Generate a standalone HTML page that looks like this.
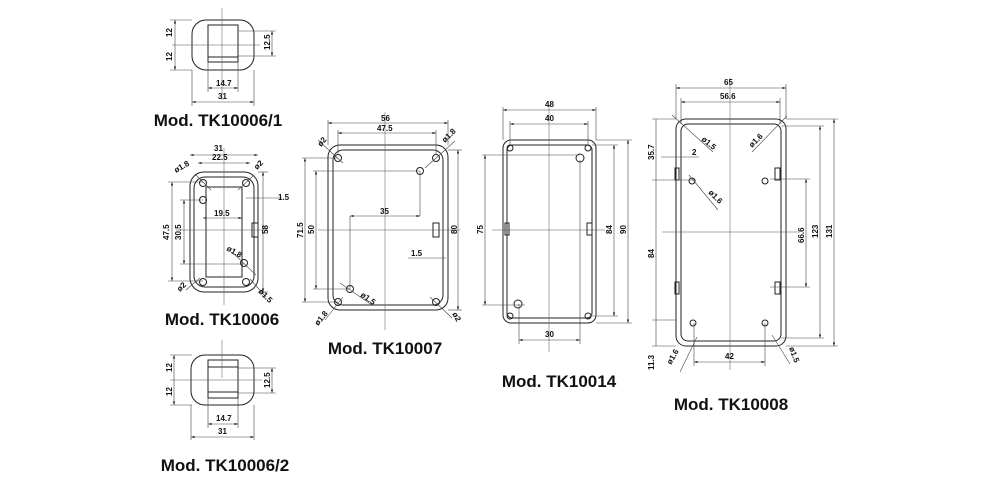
<!DOCTYPE html>
<html><head><meta charset="utf-8"><style>
html,body{margin:0;padding:0;background:#fff}
svg{display:block}
.l{stroke:#222;stroke-width:1;fill:none}
.t{stroke:#444;stroke-width:.6;fill:none}
.c{stroke:#555;stroke-width:.5;fill:none}
text{font-family:"Liberation Sans",sans-serif;fill:#111}
.s{font-size:8px;font-weight:bold}
.m{font-size:17px;font-weight:bold;text-anchor:middle}
</style></head><body>
<svg width="1000" height="481" viewBox="0 0 1000 481">
<defs>
<marker id="a" markerWidth="6" markerHeight="6" refX="6" refY="3" orient="auto-start-reverse"><path d="M0,1 L6,3 L0,5z" fill="#222"/></marker>
</defs>
<g class="t" marker-start="url(#a)" marker-end="url(#a)">
</g>

<!-- TK10006/1 -->
<rect class="l" x="192" y="20" width="62" height="50" rx="14"/>
<rect class="l" x="208" y="25" width="30" height="37"/>
<line class="l" x1="208" y1="57" x2="238" y2="57"/>
<line class="c" x1="222" y1="8" x2="222" y2="100"/>
<line class="c" x1="172" y1="45" x2="260" y2="45"/>
<g class="t">
<line x1="175" y1="20" x2="175" y2="70" marker-start="url(#a)" marker-end="url(#a)"/>
<line x1="170" y1="20" x2="192" y2="20"/><line x1="170" y1="70" x2="192" y2="70"/>
<line x1="272" y1="31" x2="272" y2="56" marker-start="url(#a)" marker-end="url(#a)"/>
<line x1="238" y1="31" x2="276" y2="31"/><line x1="238" y1="56" x2="276" y2="56"/>
<line x1="208" y1="88" x2="238" y2="88" marker-start="url(#a)" marker-end="url(#a)"/>
<line x1="208" y1="62" x2="208" y2="92"/><line x1="238" y1="62" x2="238" y2="92"/>
<line x1="192" y1="102" x2="254" y2="102" marker-start="url(#a)" marker-end="url(#a)"/>
<line x1="192" y1="70" x2="192" y2="106"/><line x1="254" y1="70" x2="254" y2="106"/>
</g>
<text class="s" transform="translate(172,37) rotate(-90)">12</text>
<text class="s" transform="translate(172,61) rotate(-90)">12</text>
<text class="s" transform="translate(270,50) rotate(-90)">12.5</text>
<text class="s" x="216" y="86">14.7</text>
<text class="s" x="218" y="99">31</text>
<text class="m" x="218" y="126">Mod. TK10006/1</text>

<!-- TK10006 -->
<rect class="l" x="190" y="172" width="68" height="120" rx="14"/>
<rect class="l" x="194" y="177" width="60" height="110" rx="11"/>
<rect class="l" x="206" y="187" width="36" height="90"/>
<line class="c" x1="224" y1="148" x2="224" y2="305"/>
<line class="c" x1="176" y1="230" x2="268" y2="230"/>
<circle class="l" cx="203" cy="183" r="3.5"/><circle class="l" cx="246" cy="183" r="3.5"/>
<circle class="l" cx="203" cy="282" r="3.5"/><circle class="l" cx="246" cy="282" r="3.5"/>
<circle class="l" cx="203" cy="200" r="3.5"/><circle class="l" cx="244" cy="263" r="3.5"/>
<rect class="l" x="252" y="223" width="6" height="14"/>
<g class="t">
<line x1="190" y1="155" x2="258" y2="155" marker-start="url(#a)" marker-end="url(#a)"/>
<line x1="198" y1="163" x2="250" y2="163" marker-start="url(#a)" marker-end="url(#a)"/>
<line x1="172" y1="182" x2="172" y2="281" marker-start="url(#a)" marker-end="url(#a)"/>
<line x1="184" y1="200" x2="184" y2="264" marker-start="url(#a)" marker-end="url(#a)"/>
<line x1="263" y1="172" x2="263" y2="292" marker-start="url(#a)" marker-end="url(#a)"/>
<line x1="203" y1="218" x2="242" y2="218" marker-start="url(#a)" marker-end="url(#a)"/>
<line x1="168" y1="182" x2="203" y2="182"/><line x1="168" y1="281" x2="203" y2="281"/>
<line x1="180" y1="200" x2="203" y2="200"/><line x1="180" y1="264" x2="244" y2="264"/>
<line x1="258" y1="172" x2="268" y2="172"/><line x1="258" y1="292" x2="268" y2="292"/>
<line x1="246" y1="198" x2="282" y2="198"/>
<line x1="195" y1="174" x2="211" y2="190"/><line x1="253" y1="176" x2="238" y2="190"/>
<line x1="186" y1="290" x2="200" y2="278"/><line x1="250" y1="279" x2="266" y2="297"/>
<line x1="233" y1="253" x2="256" y2="275"/>
</g>
<text class="s" x="214" y="151">31</text>
<text class="s" x="212" y="160">22.5</text>
<text class="s" x="214" y="216">19.5</text>
<text class="s" x="278" y="200">1.5</text>
<text class="s" transform="translate(169,240) rotate(-90)">47.5</text>
<text class="s" transform="translate(181,240) rotate(-90)">30.5</text>
<text class="s" transform="translate(268,234) rotate(-90)">58</text>
<text class="s" transform="translate(176,173) rotate(-30)">ø1.8</text>
<text class="s" transform="translate(257,170) rotate(-45)">ø2</text>
<text class="s" transform="translate(226,250) rotate(30)">ø1.8</text>
<text class="s" transform="translate(180,292) rotate(-45)">ø2</text>
<text class="s" transform="translate(258,292) rotate(45)">ø1.5</text>
<text class="m" x="222" y="325">Mod. TK10006</text>

<!-- TK10006/2 -->
<rect class="l" x="191" y="355" width="63" height="50" rx="14"/>
<rect class="l" x="208" y="360" width="30" height="38"/>
<line class="l" x1="208" y1="367" x2="238" y2="367"/>
<line class="l" x1="208" y1="392" x2="238" y2="392"/>
<line class="c" x1="222" y1="340" x2="222" y2="378"/>
<line class="c" x1="170" y1="380" x2="262" y2="380"/>
<g class="t">
<line x1="174" y1="355" x2="174" y2="405" marker-start="url(#a)" marker-end="url(#a)"/>
<line x1="170" y1="355" x2="192" y2="355"/><line x1="170" y1="405" x2="192" y2="405"/>
<line x1="272" y1="368" x2="272" y2="393" marker-start="url(#a)" marker-end="url(#a)"/>
<line x1="238" y1="368" x2="276" y2="368"/><line x1="238" y1="393" x2="276" y2="393"/>
<line x1="208" y1="424" x2="238" y2="424" marker-start="url(#a)" marker-end="url(#a)"/>
<line x1="208" y1="398" x2="208" y2="428"/><line x1="238" y1="398" x2="238" y2="428"/>
<line x1="191" y1="437" x2="254" y2="437" marker-start="url(#a)" marker-end="url(#a)"/>
<line x1="191" y1="405" x2="191" y2="440"/><line x1="254" y1="405" x2="254" y2="440"/>
</g>
<text class="s" transform="translate(172,372) rotate(-90)">12</text>
<text class="s" transform="translate(172,396) rotate(-90)">12</text>
<text class="s" transform="translate(270,388) rotate(-90)">12.5</text>
<text class="s" x="216" y="421">14.7</text>
<text class="s" x="218" y="434">31</text>
<text class="m" x="225" y="471">Mod. TK10006/2</text>

<!-- TK10007 -->
<rect class="l" x="328" y="145" width="120" height="165" rx="12"/>
<rect class="l" x="333" y="150" width="110" height="155" rx="10"/>
<line class="c" x1="385" y1="112" x2="385" y2="330"/>
<line class="c" x1="318" y1="230" x2="460" y2="230"/>
<circle class="l" cx="338" cy="158" r="3.5"/><circle class="l" cx="436" cy="158" r="3.5"/>
<circle class="l" cx="338" cy="302" r="3.5"/><circle class="l" cx="436" cy="302" r="3.5"/>
<circle class="l" cx="420" cy="171" r="3.5"/><circle class="l" cx="350" cy="289" r="3.5"/>
<rect class="l" x="433" y="223" width="6" height="14"/>
<g class="t">
<line x1="328" y1="123" x2="448" y2="123" marker-start="url(#a)" marker-end="url(#a)"/>
<line x1="338" y1="133" x2="436" y2="133" marker-start="url(#a)" marker-end="url(#a)"/>
<line x1="328" y1="120" x2="328" y2="145"/><line x1="448" y1="120" x2="448" y2="145"/>
<line x1="338" y1="130" x2="338" y2="155"/><line x1="436" y1="130" x2="436" y2="155"/>
<line x1="305" y1="158" x2="305" y2="302" marker-start="url(#a)" marker-end="url(#a)"/>
<line x1="316" y1="171" x2="316" y2="289" marker-start="url(#a)" marker-end="url(#a)"/>
<line x1="458" y1="150" x2="458" y2="310" marker-start="url(#a)" marker-end="url(#a)"/>
<line x1="350" y1="216" x2="420" y2="216" marker-start="url(#a)" marker-end="url(#a)"/>
<line x1="302" y1="158" x2="338" y2="158"/><line x1="302" y1="302" x2="338" y2="302"/>
<line x1="313" y1="171" x2="420" y2="171"/><line x1="313" y1="289" x2="350" y2="289"/>
<line x1="350" y1="216" x2="350" y2="289"/><line x1="420" y1="171" x2="420" y2="216"/>
<line x1="448" y1="150" x2="462" y2="150"/><line x1="448" y1="310" x2="462" y2="310"/>
<line x1="408" y1="258" x2="446" y2="258"/>
<line x1="318" y1="140" x2="343" y2="163"/><line x1="425" y1="168" x2="455" y2="141"/>
<line x1="325" y1="320" x2="343" y2="297"/><line x1="340" y1="283" x2="372" y2="305"/>
<line x1="430" y1="297" x2="452" y2="318"/>
</g>
<text class="s" x="381" y="121">56</text>
<text class="s" x="377" y="131">47.5</text>
<text class="s" x="380" y="214">35</text>
<text class="s" x="411" y="256">1.5</text>
<text class="s" transform="translate(303,238) rotate(-90)">71.5</text>
<text class="s" transform="translate(314,234) rotate(-90)">50</text>
<text class="s" transform="translate(457,234) rotate(-90)">80</text>
<text class="s" transform="translate(321,147) rotate(-50)">ø2</text>
<text class="s" transform="translate(445,143) rotate(-45)">ø1.8</text>
<text class="s" transform="translate(360,296) rotate(35)">ø1.5</text>
<text class="s" transform="translate(318,326) rotate(-50)">ø1.8</text>
<text class="s" transform="translate(452,314) rotate(60)">ø2</text>
<text class="m" x="385" y="354">Mod. TK10007</text>

<!-- TK10014 -->
<rect class="l" x="503" y="140" width="93" height="183" rx="8"/>
<rect class="l" x="507" y="145" width="85" height="173" rx="5"/>
<line class="c" x1="549" y1="105" x2="549" y2="352"/>
<line class="c" x1="492" y1="230" x2="605" y2="230"/>
<circle class="l" cx="510" cy="148" r="3"/><circle class="l" cx="588" cy="148" r="3"/>
<circle class="l" cx="510" cy="316" r="3"/><circle class="l" cx="588" cy="316" r="3"/>
<circle class="l" cx="580" cy="158" r="4"/><circle class="l" cx="518" cy="304" r="4"/>
<rect class="l" x="505" y="223" width="4" height="12"/><rect class="l" x="587" y="223" width="5" height="12"/>
<g class="t">
<line x1="503" y1="110" x2="596" y2="110" marker-start="url(#a)" marker-end="url(#a)"/>
<line x1="510" y1="124" x2="588" y2="124" marker-start="url(#a)" marker-end="url(#a)"/>
<line x1="503" y1="107" x2="503" y2="140"/><line x1="596" y1="107" x2="596" y2="140"/>
<line x1="510" y1="121" x2="510" y2="145"/><line x1="588" y1="121" x2="588" y2="145"/>
<line x1="485" y1="155" x2="485" y2="305" marker-start="url(#a)" marker-end="url(#a)"/>
<line x1="482" y1="155" x2="580" y2="155"/><line x1="482" y1="305" x2="525" y2="305"/>
<line x1="614" y1="145" x2="614" y2="316" marker-start="url(#a)" marker-end="url(#a)"/>
<line x1="628" y1="140" x2="628" y2="323" marker-start="url(#a)" marker-end="url(#a)"/>
<line x1="592" y1="145" x2="618" y2="145"/><line x1="592" y1="316" x2="618" y2="316"/>
<line x1="596" y1="140" x2="632" y2="140"/><line x1="596" y1="323" x2="632" y2="323"/>
<line x1="519" y1="340" x2="580" y2="340" marker-start="url(#a)" marker-end="url(#a)"/>
<line x1="519" y1="304" x2="519" y2="344"/><line x1="580" y1="160" x2="580" y2="344"/>
</g>
<text class="s" x="545" y="107">48</text>
<text class="s" x="545" y="121">40</text>
<text class="s" x="545" y="337">30</text>
<text class="s" transform="translate(483,234) rotate(-90)">75</text>
<text class="s" transform="translate(612,234) rotate(-90)">84</text>
<text class="s" transform="translate(626,234) rotate(-90)">90</text>
<text class="m" x="559" y="387">Mod. TK10014</text>

<!-- TK10008 -->
<rect class="l" x="676" y="119" width="110" height="227" rx="10"/>
<rect class="l" x="681" y="124" width="100" height="217" rx="7"/>
<line class="c" x1="730" y1="78" x2="730" y2="370"/>
<line class="c" x1="662" y1="232" x2="800" y2="232"/>
<circle class="l" cx="692" cy="181" r="3"/><circle class="l" cx="765" cy="181" r="3"/>
<circle class="l" cx="693" cy="323" r="3"/><circle class="l" cx="765" cy="323" r="3"/>
<rect class="l" x="675" y="168" width="4" height="12"/><rect class="l" x="775" y="168" width="5" height="12"/>
<rect class="l" x="675" y="282" width="4" height="12"/><rect class="l" x="775" y="282" width="5" height="12"/>
<g class="t">
<line x1="676" y1="88" x2="786" y2="88" marker-start="url(#a)" marker-end="url(#a)"/>
<line x1="681" y1="102" x2="780" y2="102" marker-start="url(#a)" marker-end="url(#a)"/>
<line x1="676" y1="84" x2="676" y2="119"/><line x1="786" y1="84" x2="786" y2="119"/>
<line x1="681" y1="98" x2="681" y2="124"/><line x1="780" y1="98" x2="780" y2="124"/>
<line x1="834" y1="119" x2="834" y2="346" marker-start="url(#a)" marker-end="url(#a)"/>
<line x1="820" y1="126" x2="820" y2="338" marker-start="url(#a)" marker-end="url(#a)"/>
<line x1="806" y1="179" x2="806" y2="287" marker-start="url(#a)" marker-end="url(#a)"/>
<line x1="786" y1="119" x2="838" y2="119"/><line x1="786" y1="346" x2="838" y2="346"/>
<line x1="781" y1="126" x2="824" y2="126"/><line x1="781" y1="338" x2="824" y2="338"/>
<line x1="770" y1="179" x2="810" y2="179"/><line x1="770" y1="287" x2="810" y2="287"/>
<line x1="656" y1="119" x2="656" y2="346"/>
<line x1="652" y1="119" x2="676" y2="119"/><line x1="652" y1="180" x2="696" y2="180"/>
<line x1="652" y1="320" x2="676" y2="320"/><line x1="652" y1="346" x2="676" y2="346"/>
<line x1="661" y1="157" x2="699" y2="157"/>
<line x1="694" y1="362" x2="765" y2="362" marker-start="url(#a)" marker-end="url(#a)"/>
<line x1="694" y1="323" x2="694" y2="366"/><line x1="765" y1="323" x2="765" y2="366"/>
<line x1="672" y1="115" x2="713" y2="152"/><line x1="787" y1="116" x2="752" y2="152"/>
<line x1="689" y1="175" x2="718" y2="210"/>
<line x1="680" y1="372" x2="697" y2="337"/><line x1="772" y1="335" x2="790" y2="364"/>
</g>
<text class="s" x="724" y="85">65</text>
<text class="s" x="720" y="99">56.6</text>
<text class="s" x="725" y="359">42</text>
<text class="s" x="692" y="155">2</text>
<text class="s" transform="translate(654,160) rotate(-90)">35.7</text>
<text class="s" transform="translate(654,258) rotate(-90)">84</text>
<text class="s" transform="translate(654,370) rotate(-90)">11.3</text>
<text class="s" transform="translate(804,243) rotate(-90)">66.6</text>
<text class="s" transform="translate(818,238) rotate(-90)">123</text>
<text class="s" transform="translate(832,238) rotate(-90)">131</text>
<text class="s" transform="translate(701,140) rotate(40)">ø1.5</text>
<text class="s" transform="translate(752,148) rotate(-45)">ø1.6</text>
<text class="s" transform="translate(708,193) rotate(45)">ø1.6</text>
<text class="s" transform="translate(671,365) rotate(-60)">ø1.6</text>
<text class="s" transform="translate(789,348) rotate(70)">ø1.5</text>
<text class="m" x="731" y="410">Mod. TK10008</text>
</svg>
</body></html>
